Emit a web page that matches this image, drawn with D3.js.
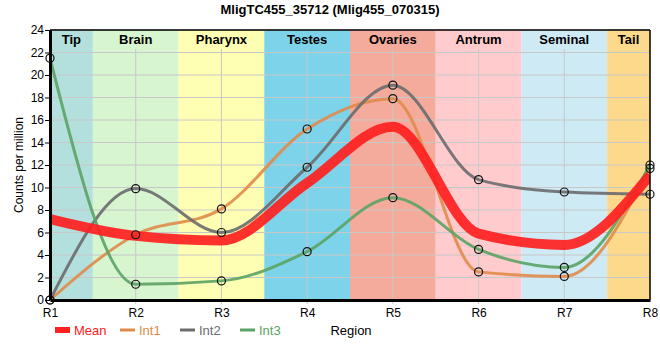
<!DOCTYPE html>
<html>
<head>
<meta charset="utf-8">
<script src="https://cdn.jsdelivr.net/npm/d3@7"></script>
<style>
  body { margin: 0; background: #fff; }
  svg { font-family: "Liberation Sans", Arial, sans-serif; }
</style>
</head>
<body>
<svg id="chart" width="660" height="360"></svg>
<script>
// Data
const regions = ['R1', 'R2', 'R3', 'R4', 'R5', 'R6', 'R7', 'R8'];
const tissues = ['Tip', 'Brain', 'Pharynx', 'Testes', 'Ovaries', 'Antrum', 'Seminal', 'Tail'];
const tissueColors = ['#b3e0dc', '#d7f5cf', '#ffffb4', '#7dd3ea', '#f5ab9c', '#ffcbcc', '#cdeaf5', '#fdd98b'];
const meanValues = [7.2, 5.7, 5.3, 10.4, 15.4, 5.9, 4.9, 11.1];
const int1Values = [0, 5.8, 8.1, 15.2, 17.9, 2.5, 2.1, 11.7];
const int2Values = [0, 9.9, 6.0, 11.8, 19.1, 10.7, 9.6, 9.4];
const int3Values = [21.5, 1.4, 1.7, 4.3, 9.1, 4.5, 2.9, 12.0];
const yTicks = [0, 2, 4, 6, 8, 10, 12, 14, 16, 18, 20, 22, 24];

const series = [
    {name: 'Int1', values: int1Values, color: '#e08b4a', width: 3, dots: true},
    {name: 'Int2', values: int2Values, color: '#6c6c6e', width: 3, dots: true},
    {name: 'Int3', values: int3Values, color: '#5ba365', width: 3, dots: true},
    {name: 'Mean', values: meanValues, color: '#ff2020', width: 10, dots: false}
];
const legendOrder = ['Mean', 'Int1', 'Int2', 'Int3'];

const plotLeft = 50, plotRight = 650, plotTop = 30, plotBottom = 300;

const svg = d3.select('#chart');

const x = d3.scalePoint().domain(regions).range([plotLeft, plotRight]);
const y = d3.scaleLinear().domain([0, 24]).range([plotBottom, plotTop]);
const step = x.step();
const bandLeft = d => Math.max(plotLeft, x(d) - step / 2);
const bandRight = d => Math.min(plotRight, x(d) + step / 2);

// Title
svg.append('text')
    .attr('x', 330).attr('y', 14)
    .attr('text-anchor', 'middle')
    .attr('font-size', 13).attr('font-weight', 'bold')
    .text('MligTC455_35712 (Mlig455_070315)');

// Tissue bands
svg.append('g').selectAll('rect')
    .data(regions)
    .join('rect')
    .attr('x', d => bandLeft(d))
    .attr('width', d => bandRight(d) - bandLeft(d))
    .attr('y', plotTop)
    .attr('height', plotBottom - plotTop)
    .attr('fill', (d, i) => tissueColors[i]);

// Grid
svg.append('g').selectAll('line')
    .data(yTicks.slice(1))
    .join('line')
    .attr('x1', plotLeft).attr('x2', plotRight)
    .attr('y1', d => y(d)).attr('y2', d => y(d))
    .attr('stroke', '#c8c8c8').attr('stroke-width', 1);

svg.append('g').selectAll('line')
    .data(regions.slice(1, -1))
    .join('line')
    .attr('x1', d => x(d)).attr('x2', d => x(d))
    .attr('y1', plotTop + 19).attr('y2', plotBottom + 4)
    .attr('stroke', '#c8c8c8').attr('stroke-width', 1);

// Tissue labels
svg.append('g').selectAll('text')
    .data(regions)
    .join('text')
    .attr('x', d => (bandLeft(d) + bandRight(d)) / 2)
    .attr('y', plotTop + 14)
    .attr('text-anchor', 'middle')
    .attr('font-size', 13).attr('font-weight', 'bold')
    .text((d, i) => tissues[i]);

// Lines
svg.append('defs').append('clipPath').attr('id', 'plotClip')
    .append('rect')
    .attr('x', plotLeft).attr('y', plotTop)
    .attr('width', plotRight - plotLeft).attr('height', plotBottom - plotTop);

const line = d3.line()
    .x((d, i) => x(regions[i]))
    .y(d => y(d))
    .curve(d3.curveMonotoneX);

svg.append('g')
    .attr('clip-path', 'url(#plotClip)')
    .selectAll('path')
    .data(series)
    .join('path')
    .attr('d', d => line(d.values))
    .attr('fill', 'none')
    .attr('stroke', d => d.color)
    .attr('stroke-width', d => d.width)
    .attr('stroke-opacity', d => d.dots ? 0.9 : 0.92)
    .attr('stroke-linecap', 'butt');

// Point markers
series.filter(s => s.dots).forEach(s => {
    svg.append('g').selectAll('circle')
        .data(s.values)
        .join('circle')
        .attr('cx', (d, i) => x(regions[i]))
        .attr('cy', d => y(d))
        .attr('r', 4)
        .attr('fill', 'none')
        .attr('stroke', '#111')
        .attr('stroke-width', 1.2);
});

// Frame
svg.append('line')
    .attr('x1', plotLeft).attr('x2', plotRight).attr('y1', plotTop).attr('y2', plotTop)
    .attr('stroke', '#000').attr('stroke-width', 1.5);
svg.append('line')
    .attr('x1', plotRight).attr('x2', plotRight).attr('y1', plotTop).attr('y2', plotBottom)
    .attr('stroke', '#000').attr('stroke-width', 1.5);

// Y axis
const yAxis = svg.append('g')
    .attr('transform', `translate(${plotLeft},0)`)
    .call(d3.axisLeft(y).tickValues(yTicks).tickSize(5).tickSizeOuter(0).tickPadding(1));
yAxis.select('.domain').attr('stroke', '#000').attr('stroke-width', 3);
yAxis.selectAll('text').attr('font-size', 12).attr('fill', '#000')
    .attr('font-family', '"Liberation Sans", Arial, sans-serif');
yAxis.selectAll('.tick line').attr('stroke', '#000');

// X axis
const xAxis = svg.append('g')
    .attr('transform', `translate(0,${plotBottom})`)
    .call(d3.axisBottom(x).tickSize(0).tickSizeOuter(0).tickPadding(8));
xAxis.select('.domain').attr('stroke', '#000').attr('stroke-width', 3);
xAxis.selectAll('text').attr('font-size', 12).attr('fill', '#000')
    .attr('font-family', '"Liberation Sans", Arial, sans-serif');

// Y title
svg.append('text')
    .attr('transform', `translate(23,${(plotTop + plotBottom) / 2}) rotate(-90)`)
    .attr('text-anchor', 'middle')
    .attr('font-size', 12)
    .text('Counts per million');

// Legend
const legendX = [55, 120, 180, 240];
const legend = svg.append('g').selectAll('g')
    .data(legendOrder)
    .join('g')
    .attr('transform', (d, i) => `translate(${legendX[i]},330)`);

legend.append('line')
    .attr('x1', 0).attr('x2', 15)
    .attr('stroke', d => series.find(s => s.name === d).color)
    .attr('stroke-width', d => d === 'Mean' ? 6 : 3);

legend.append('text')
    .attr('x', 19).attr('y', 5)
    .attr('font-size', 13)
    .attr('fill', d => series.find(s => s.name === d).color)
    .text(d => d);

svg.append('text')
    .attr('x', 351).attr('y', 335)
    .attr('text-anchor', 'middle')
    .attr('font-size', 13)
    .text('Region');
</script>
</body>
</html>
